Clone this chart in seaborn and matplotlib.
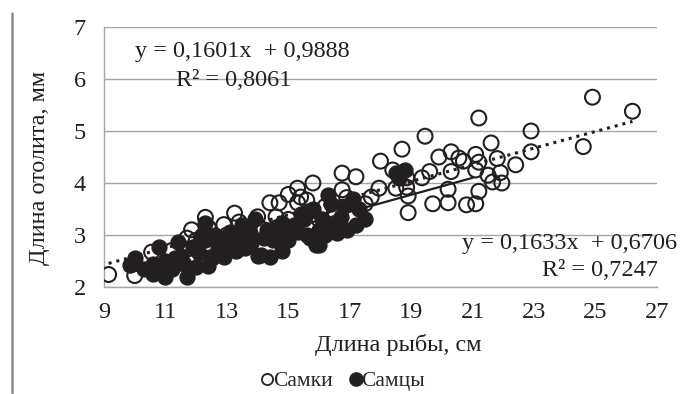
import numpy as np
import pandas as pd
import matplotlib
matplotlib.use("Agg")
import matplotlib.pyplot as plt
import seaborn as sns
from matplotlib.lines import Line2D

# ---- data ----
female_x = [9.15, 10.0, 10.55, 11.2, 11.7, 11.85, 12.0, 12.3, 12.4, 12.9, 13.0, 13.25, 13.4,
            14.0, 14.2, 14.4, 14.6, 14.7, 15.0, 15.0, 15.3, 15.4, 15.3, 15.6, 15.8, 15.7,
            16.0, 16.2, 16.5, 16.75, 16.75, 16.9, 17.2, 17.5, 17.7, 18.0, 17.95, 18.4,
            18.7, 18.5, 18.85, 18.9, 18.9, 18.85, 19.45, 19.35, 19.6, 19.7, 19.9, 20.2,
            20.2, 20.3, 20.3, 20.55, 20.7, 20.8, 21.1, 21.2, 21.1, 21.2, 21.2, 21.1, 21.5,
            21.6, 21.8, 21.65, 21.95, 21.9, 22.4, 22.9, 22.9, 24.6, 24.9, 26.2]
female_y = [2.24, 2.22, 2.67, 2.70, 2.94, 3.10, 2.90, 3.34, 3.14, 3.20, 3.00, 3.42, 3.25,
            3.35, 3.10, 3.62, 3.35, 3.62, 3.78, 3.30, 3.90, 3.73, 3.62, 3.67, 4.00, 3.45,
            3.30, 3.55, 3.45, 4.19, 3.87, 3.72, 4.12, 3.60, 3.73, 4.42, 3.90, 4.25,
            4.65, 3.90, 3.92, 3.75, 3.43, 4.10, 4.90, 4.10, 4.22, 3.60, 4.50, 3.88,
            3.62, 4.60, 4.22, 4.48, 4.42, 3.58, 4.55, 4.40, 4.25, 5.25, 3.84, 3.60, 4.15,
            4.77, 4.47, 4.02, 4.00, 4.20, 4.35, 5.00, 4.60, 4.70, 5.65, 5.38]

male_x = [9.85, 10.0, 10.3, 10.6, 10.8, 10.6, 10.9, 11.0, 11.0, 11.2, 11.3, 11.4, 11.5,
          11.7, 11.6, 11.9, 12.0, 12.1, 12.2, 12.3, 12.3, 12.4, 12.5, 12.6, 12.7, 12.8,
          12.9, 13.0, 13.1, 13.3, 13.4, 13.5, 13.6, 13.75, 13.8, 13.9, 14.0, 14.1, 14.2,
          14.3, 14.4, 14.5, 14.6, 14.8, 14.8, 14.9, 15.0, 15.2, 15.3, 15.4, 15.5, 15.6,
          15.7, 15.8, 15.9, 16.0, 16.0, 16.1, 16.3, 16.2, 16.4, 16.5, 16.6, 16.7, 16.8,
          16.9, 17.1, 17.2, 17.3, 17.5, 18.5, 18.6, 18.8]
male_y = [2.42, 2.55, 2.35, 2.25, 2.77, 2.45, 2.35, 2.20, 2.50, 2.35, 2.55, 2.87, 2.60,
          2.20, 2.45, 2.77, 2.38, 2.65, 3.00, 3.23, 2.90, 2.40, 2.55, 3.00, 2.75, 2.70,
          2.58, 2.85, 3.05, 2.70, 2.90, 3.20, 2.75, 3.04, 2.85, 3.30, 2.60, 2.62, 2.95,
          3.10, 2.58, 2.90, 3.15, 3.23, 2.70, 3.00, 2.90, 3.20, 3.05, 3.40, 3.30, 3.00,
          2.95, 3.50, 2.81, 3.10, 2.80, 3.30, 3.77, 3.00, 3.60, 3.20, 3.04, 3.35, 3.55,
          3.10, 3.70, 3.20, 3.50, 3.30, 4.20, 4.10, 4.25]

# trendline coefficients (slope, intercept) as printed in the chart
female_fit = [0.1601, 0.9888]
male_fit = [0.1633, 0.6706]
female_fit_span = [9.15, 26.2]
male_fit_span = [9.85, 21.0]
female_eq = ["y = 0,1601x  + 0,9888", "R² = 0,8061"]
male_eq = ["y = 0,1633x  + 0,6706", "R² = 0,7247"]

x_ticks = [9, 11, 13, 15, 17, 19, 21, 23, 25, 27]
y_ticks = [2, 3, 4, 5, 6, 7]
series_names = ["Самки", "Самцы"]
x_label = "Длина рыбы, см"
y_label = "Длина отолита, мм"

# ---- figure ----
sns.set_theme(style="white")
plt.rcParams["font.family"] = ["Liberation Serif", "DejaVu Serif"]
FS = 17.5
FS_LEG = 15.5
W, H = 685, 394
fig = plt.figure(figsize=(W / 100, H / 100), dpi=100)
ax = fig.add_axes([104 / W, 1 - 287 / H, (657 - 104) / W, (287 - 27) / H])

fem = pd.DataFrame({"x": female_x, "y": female_y})
mal = pd.DataFrame({"x": male_x, "y": male_y})

ink = "#231f20"
sns.scatterplot(data=fem, x="x", y="y", ax=ax, marker="o", s=115,
                facecolor="none", edgecolor=ink, linewidth=1.5, zorder=3, legend=False)
sns.scatterplot(data=mal, x="x", y="y", ax=ax, marker="o", s=115,
                color=ink, edgecolor=ink, linewidth=1.0, zorder=4, legend=False)

fx = np.array(female_fit_span)
mx = np.array(male_fit_span)
ft = pd.DataFrame({"x": fx, "y": female_fit[0] * fx + female_fit[1]})
mt = pd.DataFrame({"x": mx, "y": male_fit[0] * mx + male_fit[1]})
sns.lineplot(data=ft, x="x", y="y", ax=ax, color=ink, linewidth=2.2,
             linestyle=(0, (1, 1.6)), zorder=5)
sns.lineplot(data=mt, x="x", y="y", ax=ax, color=ink, linewidth=1.6, zorder=5)

ax.set_xlim(x_ticks[0], x_ticks[-1])
ax.set_ylim(y_ticks[0], y_ticks[-1])
ax.set_xticks(x_ticks)
ax.set_yticks(y_ticks)
ax.set_xlabel("")
ax.set_ylabel("")
grid_c = "#a6a6a6"
ax.yaxis.grid(True, color=grid_c, linewidth=1.0)
ax.xaxis.grid(False)
ax.set_axisbelow(True)
for s in ["top", "right"]:
    ax.spines[s].set_visible(False)
for s in ["left", "bottom"]:
    ax.spines[s].set_color(grid_c)
    ax.spines[s].set_linewidth(1.0)
ax.tick_params(axis="both", which="major", direction="out", length=6, width=1.0,
               color=grid_c, labelsize=FS, labelcolor="#231f20")
ax.tick_params(axis="x", pad=5)
ax.tick_params(axis="y", pad=7)
ax.set_facecolor("none")

# axis titles
fig.text(398 / W, 1 - 345 / H, x_label, ha="center", va="center", fontsize=FS, color=ink)
fig.text(40 / W, 1 - 168 / H, y_label, ha="center", va="center", rotation=90,
         fontsize=FS, color=ink)

# trendline equations
fig.text(242 / W, 1 - 52 / H, female_eq[0], ha="center", va="center", fontsize=FS, color=ink)
fig.text(234 / W, 1 - 80 / H, female_eq[1], ha="center", va="center", fontsize=FS, color=ink)
fig.text(570 / W, 1 - 244 / H, male_eq[0], ha="center", va="center", fontsize=FS, color=ink)
fig.text(600 / W, 1 - 271 / H, male_eq[1], ha="center", va="center", fontsize=FS, color=ink)

# legend
handles = [
    Line2D([], [], marker="o", linestyle="none", markersize=8, markerfacecolor="white",
           markeredgecolor=ink, markeredgewidth=1.3),
    Line2D([], [], marker="o", linestyle="none", markersize=9.5, markerfacecolor=ink,
           markeredgecolor=ink),
]
fig.legend(handles, series_names, loc="center", bbox_to_anchor=(342 / W, 1 - 381 / H),
           ncol=2, frameon=False, fontsize=FS_LEG, handletextpad=-0.15, columnspacing=0.7,
           handlelength=0.8, borderpad=0.0)

# left border line of the original image
fig.add_artist(Line2D([12 / W, 12 / W], [1 - 393 / H, 1 - 13 / H], color="#8c8c8c",
                      linewidth=1.8, transform=fig.transFigure))

fig.savefig("out.png", dpi=100)
